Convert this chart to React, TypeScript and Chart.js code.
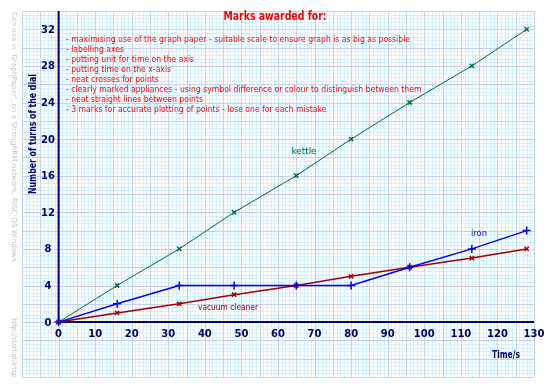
import React, { useEffect, useRef } from "react";
import { Chart, registerables } from "chart.js";
Chart.register(...registerables);

const times = [0, 16, 33, 48, 65, 80, 96, 113, 128];
const kettle = [0, 4, 8, 12, 16, 20, 24, 28, 32];
const iron = [0, 2, 4, 4, 4, 4, 6, 8, 10];
const vacuum = [0, 1, 2, 3, 4, 5, 6, 7, 8];
const xTicks = [0, 10, 20, 30, 40, 50, 60, 70, 80, 90, 100, 110, 120, 130];
const yTicks = [0, 4, 8, 12, 16, 20, 24, 28, 32];
const titleText = "Marks awarded for:";
const criteria = [
  "- maximising use of the graph paper - suitable scale to ensure graph is as big as possible",
  "- labelling axes",
  "- putting unit for time on the axis",
  "- putting time on the x-axis",
  "- neat crosses for points",
  "- clearly marked appliances - using symbol difference or colour to distinguish between them",
  "- neat straight lines between points",
  "- 3 marks for accurate plotting of points - lose one for each mistake",
];
const seriesNames = ["kettle", "iron", "vacuum cleaner"];
const xTitle = "Time/s";
const yTitle = "Number of turns of the dial";
const watermarkTop = "Can use in 'GraphPaper', on a StrongARM network, RISC-OS Windows";
const watermarkBottom = "http://start.at/ictsp";

const FONT = '"DejaVu Sans", sans-serif';

function fitText(ctx: CanvasRenderingContext2D, text: string, x: number, y: number, width: number, align: CanvasTextAlign) {
  const w = ctx.measureText(text).width;
  const s = width / w;
  ctx.save();
  ctx.translate(x, y);
  ctx.scale(s, 1);
  ctx.textAlign = align;
  ctx.fillText(text, 0, 0);
  ctx.restore();
}

const paperPlugin = {
  id: "paper",
  beforeDraw(chart: any) {
    const { ctx, chartArea: a, scales } = chart;
    const x = scales.x, y = scales.y;
    ctx.save();
    ctx.fillStyle = "#ffffff";
    ctx.fillRect(0, 0, chart.width, chart.height);
    ctx.lineWidth = 1;
    // minor
    ctx.strokeStyle = "#d3f0fe";
    ctx.beginPath();
    for (let v = -10; v <= 130; v++) {
      if (v % 5 === 0) continue;
      const px = Math.round(x.getPixelForValue(v)) + 0.5;
      ctx.moveTo(px, a.top); ctx.lineTo(px, a.bottom);
    }
    for (let i = -15; i <= 85; i++) {
      if (i % 5 === 0) continue;
      const py = Math.round(y.getPixelForValue(i * 0.4)) + 0.5;
      ctx.moveTo(a.left, py); ctx.lineTo(a.right, py);
    }
    ctx.stroke();
    // major
    ctx.strokeStyle = "#c8d0e6";
    ctx.beginPath();
    for (let v = -10; v <= 130; v += 5) {
      const px = Math.round(x.getPixelForValue(v)) + 0.5;
      ctx.moveTo(px, a.top); ctx.lineTo(px, a.bottom);
    }
    for (let i = -15; i <= 85; i += 5) {
      const py = Math.round(y.getPixelForValue(i * 0.4)) + 0.5;
      ctx.moveTo(a.left, py); ctx.lineTo(a.right, py);
    }
    ctx.stroke();
    // axes
    ctx.strokeStyle = "#000080";
    ctx.lineWidth = 2;
    const x0 = x.getPixelForValue(0), y0 = y.getPixelForValue(0);
    ctx.beginPath();
    ctx.moveTo(x0, a.top); ctx.lineTo(x0, y0);
    ctx.moveTo(x0, y0); ctx.lineTo(x.getPixelForValue(130), y0);
    ctx.stroke();

    // tick labels
    ctx.fillStyle = "#000066";
    ctx.font = `bold 10px ${FONT}`;
    ctx.textBaseline = "middle";
    ctx.textAlign = "center";
    yTicks.forEach((v) => ctx.fillText(String(v), 48, y.getPixelForValue(v) + 1));
    xTicks.forEach((v) => ctx.fillText(String(v), x.getPixelForValue(v), 334));
    // axis titles
    fitText(ctx, xTitle, 506, 355, 28, "center");
    ctx.save();
    ctx.translate(33, 134);
    ctx.rotate(-Math.PI / 2);
    fitText(ctx, yTitle, 0, 0, 120, "center");
    ctx.restore();

    // watermarks
    ctx.fillStyle = "#bcc4d2";
    ctx.font = `7px ${FONT}`;
    ctx.save();
    ctx.translate(14, 12);
    ctx.rotate(Math.PI / 2);
    fitText(ctx, watermarkTop, 0, 0, 250, "left");
    ctx.restore();
    ctx.save();
    ctx.translate(14, 318);
    ctx.rotate(Math.PI / 2);
    fitText(ctx, watermarkBottom, 0, 0, 59, "left");
    ctx.restore();

    // title & criteria
    ctx.fillStyle = "#ff0000";
    ctx.font = `bold 13px ${FONT}`;
    fitText(ctx, titleText, 275, 17, 103, "center");
    ctx.font = `9px ${FONT}`;
    const s = 344 / ctx.measureText(criteria[0]).width;
    criteria.forEach((t, i) => {
      ctx.save();
      ctx.translate(66, 40 + i * 10);
      ctx.scale(s, 1);
      ctx.textAlign = "left";
      ctx.fillText(t, 0, 0);
      ctx.restore();
    });

    // series labels
    ctx.font = `9px ${FONT}`;
    ctx.fillStyle = "#006b3c";
    fitText(ctx, seriesNames[0], 304, 152, 25, "center");
    ctx.fillStyle = "#0000ff";
    fitText(ctx, seriesNames[1], 479, 234, 16, "center");
    ctx.fillStyle = "#a00000";
    fitText(ctx, seriesNames[2], 228, 308, 60, "center");
    ctx.restore();
  },
};

const toPts = (ys: number[]) => times.map((t, i) => ({ x: t, y: ys[i] }));

export default function App() {
  const ref = useRef<HTMLCanvasElement>(null);
  useEffect(() => {
    document.body.style.margin = "0";
    const chart = new Chart(ref.current!, {
      type: "scatter",
      data: {
        datasets: [
          {
            label: seriesNames[1],
            data: toPts(iron),
            showLine: true,
            borderColor: "#0000ff",
            borderWidth: 1.5,
            pointStyle: "cross",
            pointRadius: 4,
            pointBorderColor: "#0000ff",
            pointBorderWidth: 1.5,
          },
          {
            label: seriesNames[2],
            data: toPts(vacuum),
            showLine: true,
            borderColor: "#a00000",
            borderWidth: 1.5,
            pointStyle: "crossRot",
            pointRadius: 3,
            pointBorderColor: "#a00000",
            pointBorderWidth: 1.5,
          },
          {
            label: seriesNames[0],
            data: toPts(kettle),
            showLine: true,
            borderColor: "#006b3c",
            borderWidth: 1,
            pointStyle: "crossRot",
            pointRadius: 3,
            pointBorderColor: "#006b3c",
            pointBorderWidth: 1.5,
          },
        ],
      },
      options: {
        responsive: false,
        animation: false,
        events: [],
        layout: { padding: { left: 22, right: 16, top: 11, bottom: 10 } },
        plugins: { legend: { display: false }, tooltip: { enabled: false } },
        scales: {
          x: { type: "linear", min: -10, max: 130, display: false },
          y: { type: "linear", min: -6, max: 34, display: false },
        },
      },
      plugins: [paperPlugin],
    });
    return () => chart.destroy();
  }, []);
  return (
    <div style={{ position: "fixed", left: 0, top: 0, width: 550, height: 387 }}>
      <canvas ref={ref} width={550} height={387} />
    </div>
  );
}
